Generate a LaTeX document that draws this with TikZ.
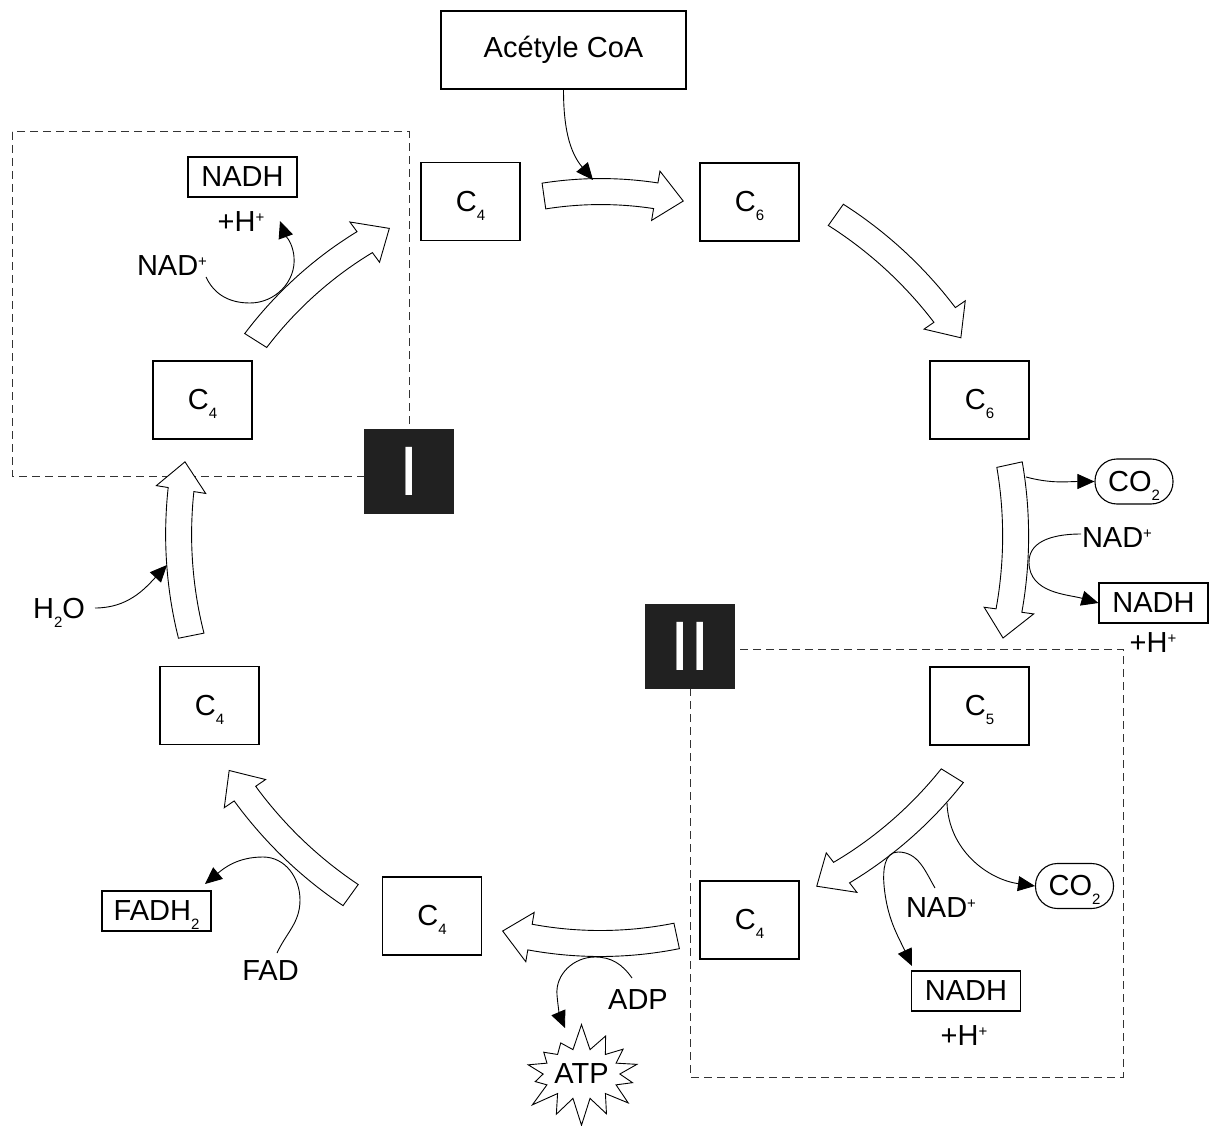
\documentclass[tikz,border=0pt]{standalone}
\usepackage{fontspec}
\setmainfont{Liberation Sans}
\usetikzlibrary{arrows.meta,shapes.symbols}

\newcommand{\sbs}[1]{\raisebox{-9pt}[0pt][0pt]{\fontsize{15}{15}\selectfont #1}}
\newcommand{\sps}[1]{\raisebox{9pt}[0pt][0pt]{\fontsize{15}{15}\selectfont #1}}

% hollow block arrow round the cycle: r tail, r tip, angle tail, angle tip
\newcommand{\cyclearrow}[4]{%
  \pgfmathsetmacro{\ah}{(#4)+ifthenelse((#3)>(#4),1,-1)*28/(#2)*180/pi}%
  \pgfmathsetmacro{\rh}{(#1)+((#2)-(#1))*(\ah-(#3))/((#4)-(#3))}%
  \draw[blk] plot[domain=#3:\ah,samples=24,variable=\t]
      ({((#1)+((#2)-(#1))*(\t-(#3))/((#4)-(#3))+13)*cos(\t)},
       {((#1)+((#2)-(#1))*(\t-(#3))/((#4)-(#3))+13)*sin(\t)})
    -- ({(\rh+25)*cos(\ah)},{(\rh+25)*sin(\ah)})
    -- ({(#2)*cos(#4)},{(#2)*sin(#4)})
    -- ({(\rh-25)*cos(\ah)},{(\rh-25)*sin(\ah)})
    -- plot[domain=\ah:#3,samples=24,variable=\t]
      ({((#1)+((#2)-(#1))*(\t-(#3))/((#4)-(#3))-13)*cos(\t)},
       {((#1)+((#2)-(#1))*(\t-(#3))/((#4)-(#3))-13)*sin(\t)})
    -- cycle;}

\begin{document}
\begin{tikzpicture}[x=1pt,y=1pt,
  every node/.style={font=\fontsize{29}{33}\selectfont,inner sep=0pt},
  cbox/.style={draw,line width=1.2pt,minimum width=99pt,minimum height=78pt},
  sbox/.style={draw,line width=1.1pt,minimum width=109pt,minimum height=40pt},
  obox/.style={draw,line width=1.1pt,rounded corners=22pt,minimum width=78pt,minimum height=45pt},
  numbox/.style={fill=black!87,text=white,minimum width=90pt,minimum height=85pt,
    font=\fontsize{70}{70}\selectfont},
  zone/.style={draw=black!80,line width=1pt,dash pattern=on 8pt off 5pt},
  blk/.style={draw,fill=white,line width=0.9pt},
  conn/.style={line width=0.9pt,-{Triangle[length=17pt,width=15pt]}}
]
  \useasboundingbox (0,0) rectangle (1211,-1126);

  % the two zones
  \draw[zone] (12,-132) rectangle (409,-476);
  \draw[zone] (690,-649) rectangle (1123,-1077);
  \node[numbox] (numI) at (409,-471.5) {I};
  \node[numbox] (numII) at (690,-646.5) {II};

  % cycle
  \node[cbox,minimum width=245pt] (acoa) at (563.5,-50) {Acétyle CoA};
  \node[cbox] (c4a) at (470.5,-201.5) {C\sbs{4}};
  \node[cbox] (c6a) at (749.5,-202) {C\sbs{6}};
  \node[cbox] (c6b) at (979.5,-400) {C\sbs{6}};
  \node[cbox] (c5) at (979.5,-706) {C\sbs{5}};
  \node[cbox] (c4b) at (749.5,-920) {C\sbs{4}};
  \node[cbox] (c4c) at (432,-916) {C\sbs{4}};
  \node[cbox] (c4d) at (209.5,-705.5) {C\sbs{4}};
  \node[cbox] (c4e) at (202.5,-400) {C\sbs{4}};

  \begin{scope}[shift={(595,-555)}]
    \cyclearrow{362.6}{364.8}{98.1}{76.0}
    \cyclearrow{416.8}{425.5}{54.7}{30.7}
    \cyclearrow{424.3}{416.4}{12.3}{-11.5}
    \cyclearrow{420.0}{398.6}{-31.7}{-56.2}
    \cyclearrow{389.6}{387.2}{-77.9}{-103.8}
    \cyclearrow{418.8}{424.6}{-125.7}{-149.5}
    \cyclearrow{411.8}{420.5}{-168.7}{-192.8}
    \cyclearrow{401.4}{386.0}{147.7}{122.2}
  \end{scope}

  % side products
  \node[sbox] (nadhA) at (242.5,-177) {NADH};
  \node (hA) at (241,-222) {+H\sps{+}};
  \node (nadA) at (172,-266) {NAD\sps{+}};
  \node[obox] (co2A) at (1134,-481.5) {CO\sbs{2}};
  \node (nadB) at (1117,-538) {NAD\sps{+}};
  \node[sbox] (nadhB) at (1153.5,-603) {NADH};
  \node (hB) at (1153,-643) {+H\sps{+}};
  \node[obox] (co2B) at (1074.5,-886) {CO\sbs{2}};
  \node (nadC) at (941,-907.5) {NAD\sps{+}};
  \node[sbox] (nadhC) at (966,-991) {NADH};
  \node (hC) at (964,-1036) {+H\sps{+}};
  \node (adp) at (638,-1000) {ADP};
  \node[starburst,draw,fill=white,line width=0.9pt,starburst points=14,
    starburst point height=27pt,random starburst=7,
    minimum width=114pt,minimum height=104pt] (atp) at (581.5,-1074) {ATP};
  \node (fad) at (270.5,-971) {FAD};
  \node[sbox] (fadh) at (156.5,-911) {FADH\sbs{2}};
  \node (h2o) at (59,-609) {H\sbs{2}O};

  % ends on the block arrows
  \coordinate (acoaIn) at (593,-180);
  \coordinate (nadAout) at (206,-277);
  \coordinate (hAin) at (280,-221);
  \coordinate (co2Aout) at (1026,-477);
  \coordinate (nadBout) at (1081,-534);
  \coordinate (co2Bout) at (947,-803);
  \coordinate (nadCout) at (935,-888);
  \coordinate (nadhCin) at (912,-966);
  \coordinate (adpOut) at (632,-978);
  \coordinate (atpIn) at (565,-1028);
  \coordinate (fadOut) at (277,-953);
  \coordinate (fadhIn) at (205,-884);
  \coordinate (h2oOut) at (95,-608);
  \coordinate (h2oIn) at (167,-565);

  \draw[conn] (acoa.south) to[out=-90,in=130] (acoaIn);
  \draw[conn] (nadAout) to[out=-65,in=180] (250,-303) to[out=0,in=-85] (294,-257)
    to[out=95,in=-70] (hAin);
  \draw[conn] (co2Aout) to[out=-15,in=180] (co2A.west);
  \draw[conn] (nadBout) to[out=180,in=90] (1029,-562) to[out=-90,in=164] (nadhB.west);
  \draw[conn] (co2Bout) to[out=-88,in=172] (co2B.west);
  \draw[conn] (nadCout) to[out=120,in=0] (898,-852) to[out=180,in=95] (884,-885)
    to[out=-85,in=115] (nadhCin);
  \draw[conn] (adpOut) to[out=125,in=0] (595,-957) to[out=180,in=95] (557,-995)
    to[out=-85,in=113] (atpIn);
  \draw[conn] (fadOut) to[out=65,in=-90] (300,-900) to[out=90,in=0] (263,-857)
    to[out=180,in=40] (fadhIn);
  \draw[conn] (h2oOut) to[out=0,in=-133] (h2oIn);
\end{tikzpicture}
\end{document}
